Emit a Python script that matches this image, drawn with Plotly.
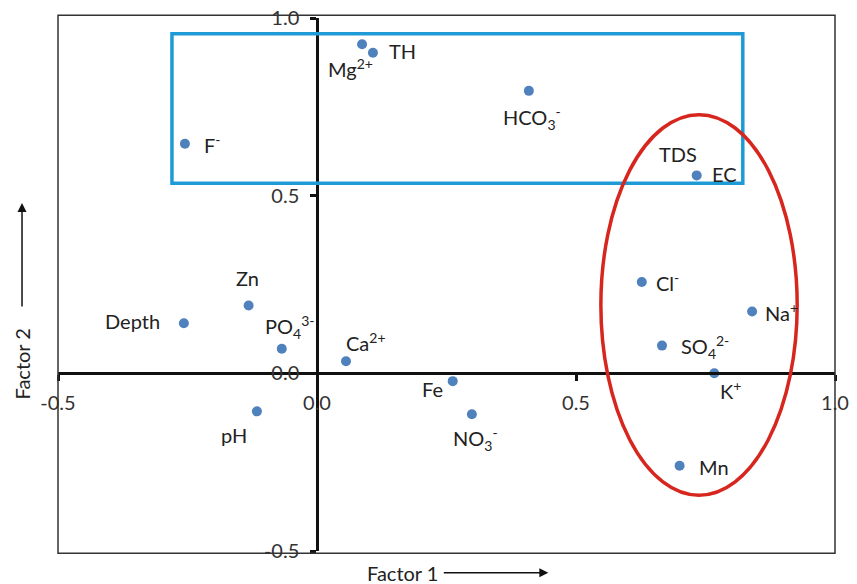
import plotly.graph_objects as go

# Data
variables = ["Mg", "TH", "HCO3", "F", "EC", "Cl", "Na", "SO4", "K", "Mn",
             "Zn", "Depth", "PO4", "Ca", "Fe", "NO3", "pH"]
labels = ["Mg<sup>2+</sup>", "TH", "HCO<sub>3</sub><sup>-</sup>", "F<sup>-</sup>", "EC",
          "Cl<sup>-</sup>", "Na<sup>+</sup>", "SO<sub>4</sub><sup>2-</sup>", "K<sup>+</sup>", "Mn",
          "Zn", "Depth", "PO<sub>4</sub><sup>3-</sup>", "Ca<sup>2+</sup>", "Fe",
          "NO<sub>3</sub><sup>-</sup>", "pH"]
factor1 = [0.087, 0.108, 0.409, -0.255, 0.733, 0.627, 0.840, 0.666, 0.767, 0.700,
           -0.132, -0.257, -0.068, 0.056, 0.262, 0.299, -0.116]
factor2 = [0.926, 0.902, 0.795, 0.646, 0.557, 0.257, 0.174, 0.078, 0.000, -0.260,
           0.191, 0.141, 0.069, 0.034, -0.022, -0.115, -0.107]
tick_vals = [-0.5, 0.0, 0.5, 1.0]
tick_text = ["-0.5", "0.0", "0.5", "1.0"]

# label placement (anchor, xshift, yshift in px)
label_pos = {
    "Mg": ("center", -12, -24), "TH": ("left", 14, 2), "HCO3": ("center", 3, -27),
    "F": ("left", 17, 0), "EC": ("left", 13, 1), "Cl": ("left", 12, 0),
    "Na": ("left", 11, 0), "SO4": ("left", 17, -1), "K": ("center", 16, -17),
    "Mn": ("left", 17, -1), "Zn": ("center", -1, 27), "Depth": ("right", -22, 2),
    "PO4": ("center", 8, 22), "Ca": ("center", 20, 19), "Fe": ("center", -20, -8),
    "NO3": ("center", 4, -25), "pH": ("center", -23, -24),
}

FONT = "Lato, 'Open Sans', sans-serif"
TXT = "#222222"
FS = 20

fig = go.Figure()
fig.add_trace(go.Scatter(
    x=factor1, y=factor2, mode="markers",
    marker=dict(color="#4F81BD", size=10),
    hoverinfo="skip", showlegend=False,
))

annotations = []
for v, lab, x, y in zip(variables, labels, factor1, factor2):
    anc, dx, dy = label_pos[v]
    annotations.append(dict(x=x, y=y, xref="x", yref="y", text=lab, showarrow=False,
                            xanchor=anc, yanchor="middle", xshift=dx, yshift=dy,
                            font=dict(family=FONT, size=FS, color=TXT)))
ec_i = variables.index("EC")
annotations.append(dict(x=factor1[ec_i], y=factor2[ec_i], xref="x", yref="y", text="TDS",
                        showarrow=False, xanchor="center", yanchor="middle",
                        xshift=-19, yshift=21, font=dict(family=FONT, size=FS, color=TXT)))

annotations += [
    dict(x=0.443, y=-0.041, xref="paper", yref="paper", text="Factor 1", showarrow=False,
         xanchor="center", yanchor="middle", font=dict(family=FONT, size=FS, color=TXT)),
    dict(x=0.631, y=-0.041, xref="paper", yref="paper", ax=-106, ay=0, text="",
         showarrow=True, arrowhead=2, arrowsize=1.2, arrowwidth=1.5, arrowcolor="#111"),
    dict(x=-0.0463, y=0.35, xref="paper", yref="paper", text="Factor 2", showarrow=False,
         textangle=-90, xanchor="center", yanchor="middle",
         font=dict(family=FONT, size=FS, color=TXT)),
    dict(x=-0.0463, y=0.653, xref="paper", yref="paper", ax=0, ay=105, text="",
         showarrow=True, arrowhead=2, arrowsize=1.2, arrowwidth=1.5, arrowcolor="#111"),
]

shapes = [
    dict(type="rect", xref="paper", yref="paper", x0=0, x1=1, y0=-0.004, y1=1.005,
         line=dict(color="#333333", width=1.5)),
    dict(type="rect", xref="x", yref="y", x0=-0.280, x1=0.822, y0=0.535, y1=0.956,
         line=dict(color="#1E9BD7", width=3.5)),
    dict(type="circle", xref="x", yref="y", x0=0.548, x1=0.927, y0=-0.343, y1=0.728,
         line=dict(color="#D7261E", width=3.5)),
]

axis_common = dict(range=[-0.5, 1.0], tickvals=tick_vals, ticktext=tick_text,
                   showgrid=False, zeroline=False, showline=True, linecolor="#111111",
                   linewidth=2.5, ticks="outside", ticklen=6, tickwidth=2.5,
                   tickcolor="#111111", anchor="free", position=1/3, automargin=False,
                   ticklabeloverflow="allow",
                   tickfont=dict(family=FONT, size=FS, color="#333333"))

fig.update_layout(
    width=857, height=584,
    margin=dict(l=58, r=22, t=18, b=33, autoexpand=False),
    paper_bgcolor="white", plot_bgcolor="white",
    xaxis=dict(**axis_common, ticklabelstandoff=5),
    yaxis=dict(**axis_common, ticklabelstandoff=7),
    shapes=shapes, annotations=annotations,
)

fig.write_html("out.html", config={"displayModeBar": False},
               post_script="document.body.style.margin='0';document.body.style.overflow='hidden';")
